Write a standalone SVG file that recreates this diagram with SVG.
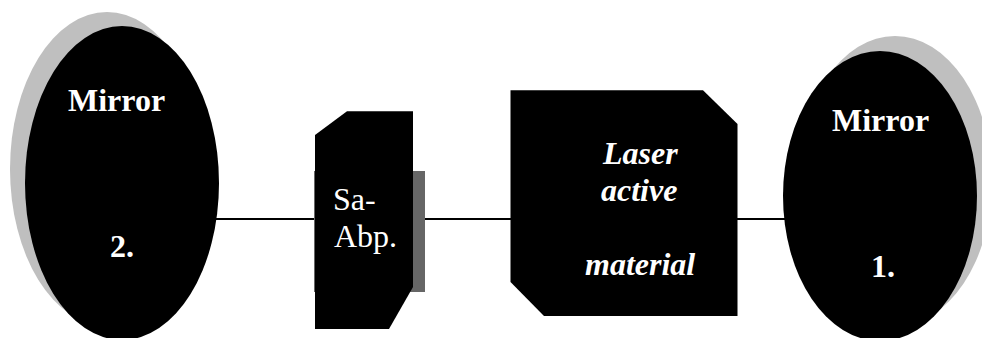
<svg xmlns="http://www.w3.org/2000/svg" width="982" height="338" viewBox="0 0 982 338">
<style>
.t{font-family:"Liberation Serif","Times New Roman",serif;font-size:32px;fill:#fff}
.b{font-weight:bold}
.bi{font-weight:bold;font-style:italic}
.s{fill:#000}
.g{fill:#bfbfbf}
.c{stroke:#000;stroke-width:2;fill:none}
</style>
<rect width="982" height="338" fill="#fff"/>
<g id="connectors">
<line class="c" x1="216" y1="219" x2="512" y2="219"/>
<line class="c" x1="736" y1="219" x2="786" y2="219"/>
</g>
<g id="mirror-2">
<ellipse class="g" cx="107" cy="169" rx="97" ry="157"/>
<ellipse class="s" cx="122" cy="183" rx="97" ry="157"/>
<text class="t b" x="68" y="111">Mirror</text>
<text class="t b" x="110" y="257">2.</text>
</g>
<g id="sa-abp">
<rect x="314" y="171" width="111" height="121" fill="#666"/>
<polygon class="s" points="315,135 347,111.3 413,111.3 413,287 389,329 315,329"/>
<text class="t" x="333" y="210">Sa-</text>
<text class="t" x="334" y="247">Abp.</text>
</g>
<g id="laser-material">
<polygon class="s" points="510.5,90.3 703,90.3 737.5,124 737.5,316 544,316 510.5,282"/>
<text class="t bi" x="603" y="164">Laser</text>
<text class="t bi" x="601" y="201">active</text>
<text class="t bi" x="585" y="275">material</text>
</g>
<g id="mirror-1">
<ellipse class="g" cx="895" cy="181" rx="97" ry="145"/>
<ellipse class="s" cx="880" cy="196" rx="97" ry="145"/>
<text class="t b" x="832" y="131">Mirror</text>
<text class="t b" x="871" y="277">1.</text>
</g>
</svg>
